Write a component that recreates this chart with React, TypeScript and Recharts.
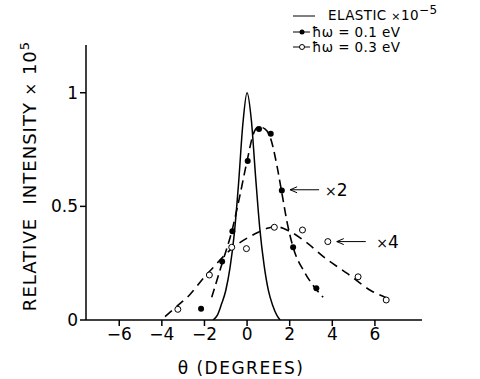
import React from 'react';
import { ComposedChart, Line, Scatter, XAxis, YAxis, ReferenceDot } from 'recharts';

// elastic peak (solid)
const elasticTheta = [-1.6, -1.4, -1.2, -1.0, -0.8, -0.6, -0.4, -0.2, 0, 0.2, 0.4, 0.6, 0.8, 1.0, 1.2, 1.4, 1.55];
const elasticValue = [0, 0.02, 0.07, 0.13, 0.23, 0.38, 0.6, 0.86, 1.0, 0.88, 0.63, 0.4, 0.24, 0.13, 0.065, 0.02, 0];

// hw = 0.1 eV measured points and dashed fit
const lowTheta = [-2.16, -1.17, -0.69, 0.03, 0.56, 1.11, 1.63, 2.16, 3.25];
const lowValue = [0.05, 0.257, 0.39, 0.7, 0.84, 0.82, 0.57, 0.32, 0.14];
const lowFitTheta = [-1.66, -1.17, -0.69, -0.4, 0, 0.3, 0.55, 0.85, 1.1, 1.4, 1.63, 1.9, 2.16, 2.7, 3.2, 3.57];
const lowFitValue = [0.1, 0.25, 0.4, 0.52, 0.7, 0.82, 0.85, 0.84, 0.8, 0.68, 0.56, 0.42, 0.32, 0.21, 0.14, 0.1];

// hw = 0.3 eV measured points and dashed fit
const highTheta = [-3.25, -1.77, -0.72, -0.03, 1.28, 2.6, 3.79, 5.21, 6.53];
const highValue = [0.047, 0.198, 0.32, 0.314, 0.408, 0.396, 0.345, 0.19, 0.088];
const highFitTheta = [-3.85, -3.3, -2.7, -2.0, -1.5, -1.0, -0.5, 0, 0.5, 1.0, 1.4, 2.0, 2.8, 3.7, 4.7, 5.8, 6.55];
const highFitValue = [0.015, 0.06, 0.11, 0.19, 0.24, 0.29, 0.33, 0.36, 0.385, 0.405, 0.41, 0.39, 0.34, 0.27, 0.205, 0.13, 0.097];

const xTicks = [-6, -4, -2, 0, 2, 4, 6];
const yTicks = [0, 0.5, 1];

const pairs = (xs: number[], ys: number[]) => xs.map((x, i) => ({ x, y: ys[i] }));

const FONT = '"DejaVu Sans", sans-serif';

const Arrow = (props: any) => {
  const { cx, cy } = props;
  if (cx == null || cy == null) return null;
  return (
    <g stroke="#000" strokeWidth={1} fill="none">
      <line x1={cx} y1={cy} x2={cx + 29} y2={cy} />
      <polyline points={`${cx + 7},${cy - 3} ${cx},${cy} ${cx + 7},${cy + 3}`} />
    </g>
  );
};

const makeTag = (num: string) => (props: any) => {
  const { cx, cy } = props;
  if (cx == null || cy == null) return null;
  return (
    <text x={cx} y={cy + 6} fontFamily={FONT} fill="#000" fontSize={17}>
      <tspan fontSize={14}>×</tspan>
      <tspan>{num}</tspan>
    </text>
  );
};

const FilledDot = (props: any) => <circle cx={props.cx} cy={props.cy} r={3} fill="#000" />;
const OpenDot = (props: any) => (
  <circle cx={props.cx} cy={props.cy} r={3} fill="#fff" stroke="#000" strokeWidth={1} />
);

const rowStyle = (top: number): React.CSSProperties => ({
  position: 'absolute',
  left: 290,
  top,
  height: 14,
  display: 'flex',
  alignItems: 'center',
  whiteSpace: 'nowrap',
  fontSize: 13.5,
  letterSpacing: 0.4,
  lineHeight: '14px',
});

export default function App() {
  return (
    <div style={{ position: 'absolute', left: 0, top: 0, width: 480, height: 379, background: '#fff', fontFamily: FONT }}>
      <ComposedChart width={480} height={379} margin={{ top: 45, right: 58, bottom: 0, left: 0 }}>
        <XAxis
          type="number"
          dataKey="x"
          domain={[-7.56, 8.21]}
          ticks={xTicks}
          tickFormatter={(v: number) => (v < 0 ? '−' + Math.abs(v) : String(v))}
          height={59}
          allowDataOverflow
          stroke="#000"
          strokeWidth={1.5}
          tickSize={6}
          tick={{ fill: '#000', fontSize: 17, fontFamily: FONT }}
        />
        <YAxis
          type="number"
          dataKey="y"
          domain={[0, 1.21]}
          ticks={yTicks}
          width={86}
          allowDataOverflow
          stroke="#000"
          strokeWidth={1.5}
          tickSize={6}
          tick={{ fill: '#000', fontSize: 17, fontFamily: FONT }}
        />
        <Line
          data={pairs(elasticTheta, elasticValue)}
          dataKey="y"
          type="monotone"
          stroke="#000"
          strokeWidth={1.5}
          dot={false}
          isAnimationActive={false}
        />
        <Line
          data={pairs(lowFitTheta, lowFitValue)}
          dataKey="y"
          type="monotone"
          stroke="#000"
          strokeWidth={1.6}
          strokeDasharray="9 5"
          dot={false}
          isAnimationActive={false}
        />
        <Line
          data={pairs(highFitTheta, highFitValue)}
          dataKey="y"
          type="monotone"
          stroke="#000"
          strokeWidth={1.6}
          strokeDasharray="9 6"
          dot={false}
          isAnimationActive={false}
        />
        <Scatter data={pairs(lowTheta, lowValue)} dataKey="y" shape={FilledDot} isAnimationActive={false} />
        <Scatter data={pairs(highTheta, highValue)} dataKey="y" shape={OpenDot} isAnimationActive={false} />
        <ReferenceDot x={2.02} y={0.573} shape={Arrow} />
        <ReferenceDot x={3.66} y={0.573} shape={makeTag('2')} />
        <ReferenceDot x={4.21} y={0.345} shape={Arrow} />
        <ReferenceDot x={6.06} y={0.345} shape={makeTag('4')} />
      </ComposedChart>

      {/* legend */}
      <div style={rowStyle(9)}>
        <svg width={38} height={14}><line x1={3} y1={7} x2={25} y2={7} stroke="#000" strokeWidth={1} /></svg>
        <span>
          ELASTIC <span style={{ fontSize: 11 }}>×</span>10
          <span style={{ fontSize: 12, position: 'relative', top: -6 }}>−5</span>
        </span>
      </div>
      <div style={rowStyle(25)}>
        <svg width={22} height={14}>
          <line x1={3} y1={7} x2={20} y2={7} stroke="#000" strokeWidth={1} />
          <circle cx={12} cy={7} r={2.5} fill="#000" />
        </svg>
        <span>ħω = 0.1 eV</span>
      </div>
      <div style={rowStyle(40)}>
        <svg width={22} height={14}>
          <line x1={3} y1={7} x2={20} y2={7} stroke="#000" strokeWidth={1} />
          <circle cx={12} cy={7} r={2.5} fill="#fff" stroke="#000" strokeWidth={1} />
        </svg>
        <span>ħω = 0.3 eV</span>
      </div>

      {/* y axis title */}
      <div
        style={{
          position: 'absolute',
          left: 30 - 160,
          top: 176 - 12,
          width: 320,
          height: 24,
          lineHeight: '24px',
          textAlign: 'center',
          whiteSpace: 'nowrap',
          fontSize: 18,
          letterSpacing: 1,
          transform: 'rotate(-90deg)',
        }}
      >
        RELATIVE&nbsp;&nbsp;INTENSITY <span style={{ fontSize: 15 }}>×</span> 10<sup style={{ fontSize: 13, lineHeight: 0 }}>5</sup>
      </div>

      {/* x axis title */}
      <div
        style={{
          position: 'absolute',
          left: 241 - 100,
          top: 358,
          width: 200,
          textAlign: 'center',
          fontSize: 17,
          letterSpacing: 1.5,
          lineHeight: '20px',
        }}
      >
        θ (DEGREES)
      </div>
    </div>
  );
}
